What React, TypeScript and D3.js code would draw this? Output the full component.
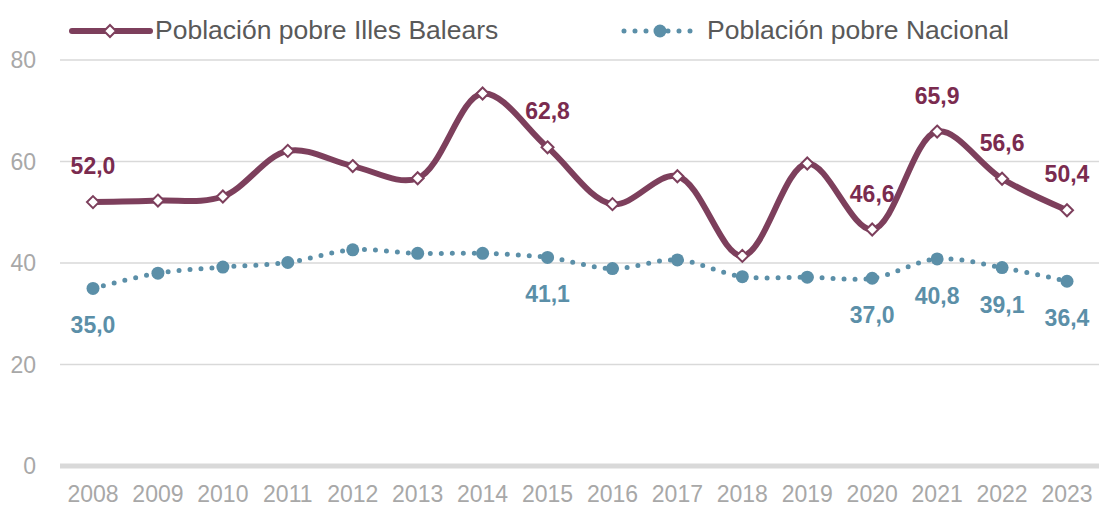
import { useEffect } from "react";
import * as d3 from "d3";

const years = [2008, 2009, 2010, 2011, 2012, 2013, 2014, 2015, 2016, 2017, 2018, 2019, 2020, 2021, 2022, 2023];
const balears = [52.0, 52.3, 53.1, 62.1, 59.1, 56.7, 73.4, 62.8, 51.6, 57.1, 41.4, 59.6, 46.6, 65.9, 56.6, 50.4];
const nacional = [35.0, 38.0, 39.2, 40.1, 42.6, 41.9, 41.9, 41.1, 38.9, 40.6, 37.3, 37.2, 37.0, 40.8, 39.1, 36.4];
const labelledYears = [2008, 2015, 2020, 2021, 2022, 2023];
const yTicks = [0, 20, 40, 60, 80];

const W = 1099;
const H = 506;
const BAL = "#7d3f5c";
const BAL_TXT = "#7a2b4f";
const NAC = "#5b8fa8";
const GRID = "#d9d9d9";
const AXIS_TXT = "#a8a8a8";
const FONT = "'Liberation Sans', Arial, sans-serif";

const fmt = (v: number) => v.toFixed(1).replace(".", ",");

export default function App() {
  useEffect(() => {
    document.body.style.margin = "0";
  }, []);

  const x = d3.scalePoint<number>().domain(years).range([93, 1067]);
  const y = d3.scaleLinear().domain([0, 80]).range([466, 60]);

  const line = d3
    .line<number>()
    .x((_, i) => x(years[i])!)
    .y((d) => y(d))
    .curve(d3.curveCatmullRom.alpha(0.5));

  const diamond = (cx: number, cy: number, r: number) =>
    `M${cx},${cy - r}L${cx + r},${cy}L${cx},${cy + r}L${cx - r},${cy}Z`;

  return (
    <svg width={W} height={H} style={{ display: "block", fontFamily: FONT }}>
      <rect width={W} height={H} fill="#fff" />

      {/* grid */}
      {yTicks.map((t) => (
        <g key={t}>
          <line
            x1={60}
            x2={W}
            y1={y(t)}
            y2={y(t)}
            stroke={GRID}
            strokeWidth={t === 0 ? 5 : 1.3}
          />
          <text x={36} y={y(t) + 8} textAnchor="end" fontSize={23} fill={AXIS_TXT}>
            {t}
          </text>
        </g>
      ))}

      {years.map((yr) => (
        <text key={yr} x={x(yr)} y={502} textAnchor="middle" fontSize={23} fill={AXIS_TXT}>
          {yr}
        </text>
      ))}

      {/* Nacional */}
      <path
        d={line(nacional)!}
        fill="none"
        stroke={NAC}
        strokeWidth={5}
        strokeLinecap="round"
        strokeDasharray="0 11"
      />
      {nacional.map((v, i) => (
        <circle key={i} cx={x(years[i])} cy={y(v)} r={6.5} fill={NAC} />
      ))}

      {/* Balears */}
      <path d={line(balears)!} fill="none" stroke={BAL} strokeWidth={6} strokeLinejoin="round" />
      {balears.map((v, i) => (
        <path
          key={i}
          d={diamond(x(years[i])!, y(v), 6)}
          fill="#fff"
          stroke={BAL}
          strokeWidth={2}
        />
      ))}

      {/* data labels */}
      {years.map((yr, i) =>
        labelledYears.includes(yr) ? (
          <g key={yr} fontSize={23} fontWeight="bold" textAnchor="middle">
            <text x={x(yr)} y={y(balears[i]) - 36 + 8} fill={BAL_TXT}>
              {fmt(balears[i])}
            </text>
            <text x={x(yr)} y={y(nacional[i]) + 37 + 8} fill={NAC}>
              {fmt(nacional[i])}
            </text>
          </g>
        ) : null
      )}

      {/* legend */}
      <line x1={72} x2={150} y1={31} y2={31} stroke={BAL} strokeWidth={6} strokeLinecap="round" />
      <path d={diamond(110, 31, 6)} fill="#fff" stroke={BAL} strokeWidth={2} />
      <text x={155} y={39} fontSize={26.5} fill="#595959">
        Población pobre Illes Balears
      </text>

      <line
        x1={624}
        x2={692}
        y1={31}
        y2={31}
        stroke={NAC}
        strokeWidth={5}
        strokeLinecap="round"
        strokeDasharray="0 11"
      />
      <circle cx={660} cy={31} r={6.5} fill={NAC} />
      <text x={707} y={39} fontSize={26.5} fill="#595959">
        Población pobre Nacional
      </text>
    </svg>
  );
}
